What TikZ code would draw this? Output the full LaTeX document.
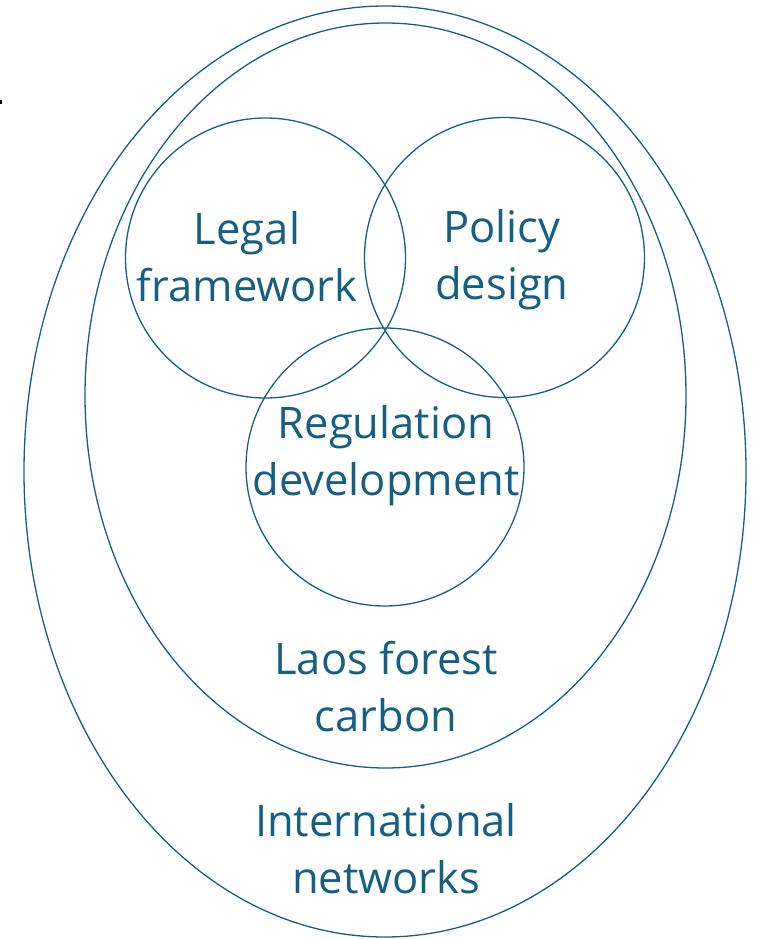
\documentclass[tikz,border=0pt]{standalone}
\usepackage{fontspec}
\setmainfont{Open Sans}
\usetikzlibrary{calc}
\usetikzlibrary{positioning}
\definecolor{custom-teal}{RGB}{21, 96, 130}

\begin{document}
\begin{tikzpicture}[x=1pt, y=-1pt,
    ring/.style={draw=custom-teal, line width=1.3pt},
    label/.style={text=custom-teal, align=center, font=\fontsize{43.5}{57}\selectfont}]
\useasboundingbox (0,0) rectangle (761,939);

\fill[black] (0,100) rectangle (2,104);

\draw[ring] (385,471.5) ellipse (361 and 465.5);
\draw[ring] (385.5,395.5) ellipse (300.5 and 372.5);

\draw[ring] (265.5,258) circle (140);
\draw[ring] (504.5,257.5) circle (140);
\draw[ring] (385,467) circle (139);

\node[label] (legal) at (247,257) {Legal\\framework};
\node[label] (policy) at (502,260) {Policy\\design};
\node[label] (regulation) at (386,456) {Regulation\\development};
\node[label] (laos) at (386,687) {Laos forest\\carbon};
\node[label] (international) at (386,849) {International\\networks};
\end{tikzpicture}
\end{document}
